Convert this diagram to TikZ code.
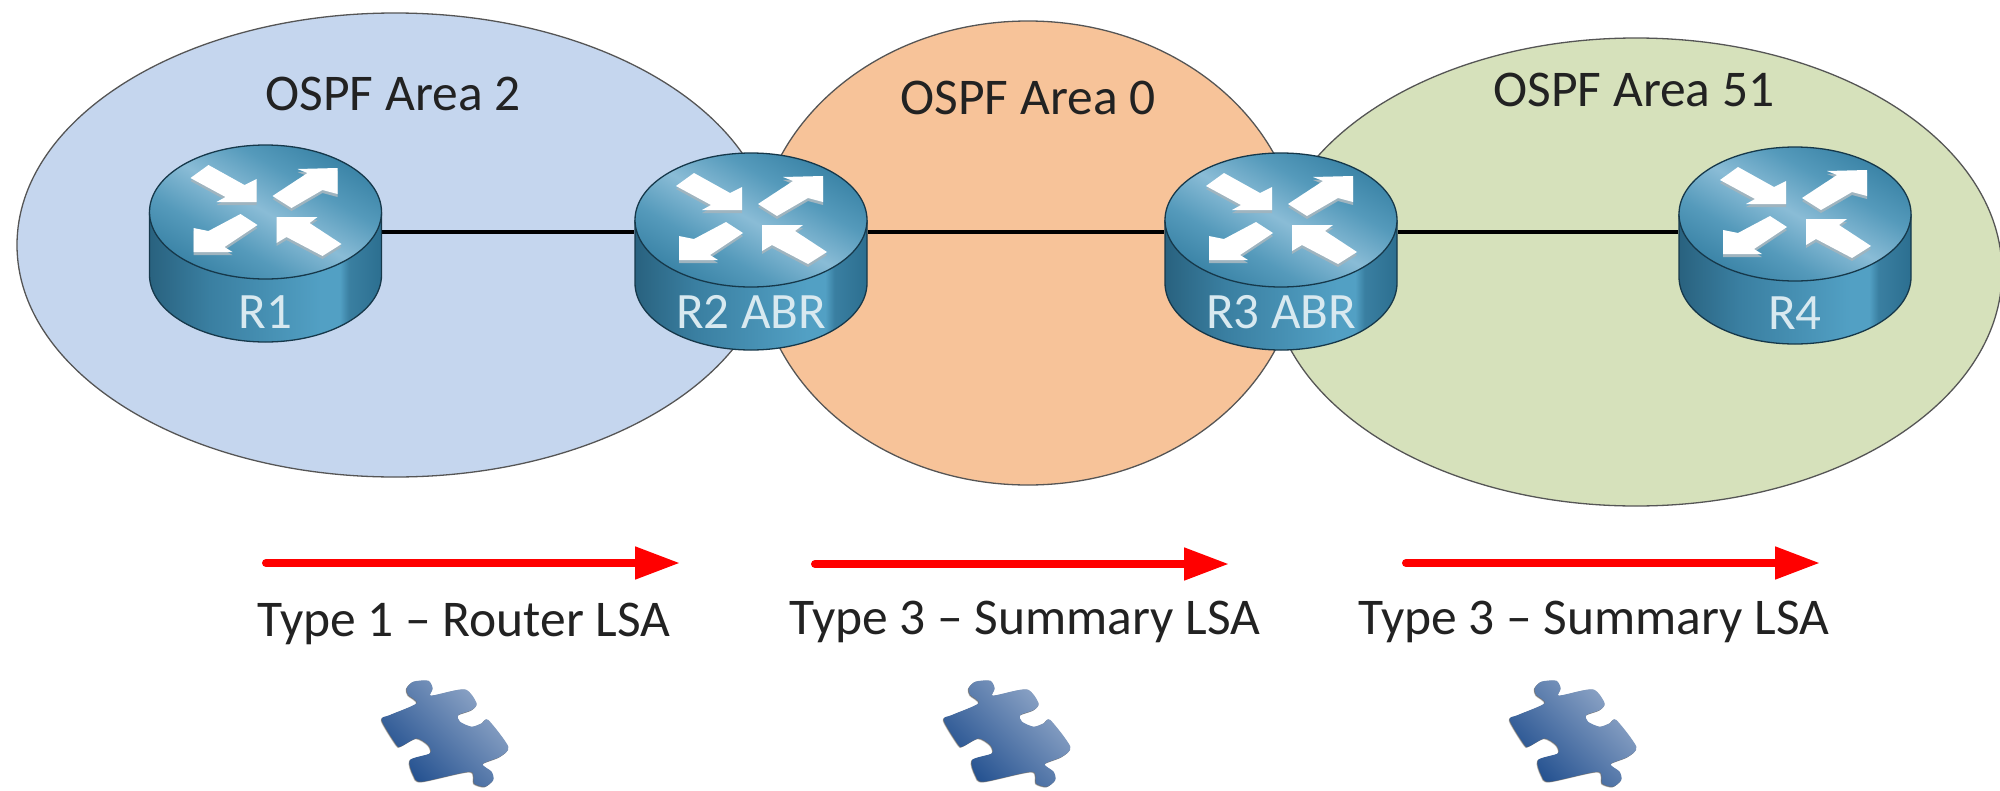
\documentclass[tikz,border=0pt]{standalone}
\usepackage{fontspec}
\setmainfont{Carlito}
\usetikzlibrary{arrows.meta}
\definecolor{areaA}{HTML}{C5D6EE}
\definecolor{areaB}{HTML}{F7C399}
\definecolor{areaC}{HTML}{D6E1BB}
\definecolor{rimline}{HTML}{555555}
\definecolor{routeredge}{HTML}{16384A}
\definecolor{bodyD}{HTML}{29627F}
\definecolor{bodyM}{HTML}{3A7FA1}
\definecolor{bodyL}{HTML}{52A0C4}
\definecolor{bodyR}{HTML}{2C6F90}
\definecolor{topD}{HTML}{3A83A6}
\definecolor{topM}{HTML}{559ABB}
\definecolor{topL}{HTML}{8ABCD6}
\definecolor{labeltext}{HTML}{D8E9F0}
\definecolor{inktext}{HTML}{222222}
\definecolor{puzL}{HTML}{93A9C9}
\definecolor{puzD}{HTML}{204E8E}
\definecolor{arrowshadow}{HTML}{9FB4BF}
\pgfdeclarehorizontalshading{rbody}{100bp}{color(0bp)=(bodyD);color(25bp)=(bodyD);color(38bp)=(bodyM);color(62bp)=(bodyL);color(66bp)=(bodyL);color(68bp)=(bodyM);color(75bp)=(bodyR);color(100bp)=(bodyR)}
\pgfdeclarehorizontalshading{rtop}{100bp}{color(0bp)=(topD);color(25bp)=(topD);color(37bp)=(topM);color(50bp)=(topL);color(63bp)=(topM);color(75bp)=(topD);color(100bp)=(topD)}
\pgfdeclarehorizontalshading{rpuzzle}{100bp}{color(0bp)=(puzD);color(25bp)=(puzD);color(75bp)=(puzL);color(100bp)=(puzL)}
\tikzset{
  area/.style={draw=rimline,line width=1.3pt},
  arealabel/.style={anchor=base,inner sep=0pt,text=inktext,font=\fontsize{51.5}{56}\selectfont},
  routerbox/.style={inner sep=0pt,minimum width=233pt,minimum height=60pt},
  routerlabel/.style={anchor=base,inner sep=0pt,text=labeltext,font=\fontsize{51}{56}\selectfont},
  link/.style={draw=black,line width=3.2pt},
  lsaarrow/.style={draw=red,line width=8pt,line cap=round,-{Triangle[length=45pt,width=31pt,fill=red]}},
  wing/.style={fill=white},
  wingshadow/.style={fill=arrowshadow}
}
\newcommand\routerart[5]{%
  \begin{scope}[shift={(#2,#3)}]
    \shade[shading=rbody,shading angle=0] (-116,0) -- (-116,63)
      .. controls (-116,100) and (-64,130) .. (0,130)
      .. controls (64,130) and (116,100) .. (116,63) -- (116,0) -- cycle;
    \draw[routeredge,line width=1.3pt] (-116,0) -- (-116,63)
      .. controls (-116,100) and (-64,130) .. (0,130)
      .. controls (64,130) and (116,100) .. (116,63) -- (116,0);
    \shade[shading=rtop,shading angle=60] (0,0) ellipse [x radius=116pt,y radius=67pt];
    \draw[routeredge,line width=1.3pt] (0,0) ellipse [x radius=116pt,y radius=67pt];
    \foreach \dy/\st in {3/wingshadow,0/wing}{
      \path[\st,yshift=-\dy pt] (-75,-34) -- (-57,-47) -- (-21,-27) -- (-9,-33) -- (-9,-10) -- (-49,-10) -- (-40,-15) -- cycle;
      \path[\st,yshift=-\dy pt] (72,-44) -- (32,-43) -- (42,-39) -- (7,-16) -- (26,-4) -- (57,-22) -- (72,-18) -- cycle;
      \path[\st,yshift=-\dy pt] (-72,16) -- (-72,40) -- (-33,40) -- (-41,35) -- (-8,13) -- (-25,2) -- (-57,19) -- cycle;
      \path[\st,yshift=-\dy pt] (11,5) -- (52,5) -- (44,11) -- (76,32) -- (57,44) -- (21,25) -- (11,31) -- cycle;
    }
    \node[routerlabel] (#1label) at (0,#5) {#4};
  \end{scope}}
\def\puzzlepath{plot[smooth cycle,tension=.45] coordinates{
  (140,85) (160,65) (205,62) (218,85) (210,105) (225,105) (315,88) (350,130) (335,150) (295,165)
  (300,185) (335,200) (365,190) (385,180) (445,260) (420,290) (368,312) (395,335) (400,360) (375,380)
  (342,370) (330,335) (185,365) (160,345) (150,300) (210,280) (205,255) (170,235) (125,258) (110,255)
  (65,180) (90,165) (170,130) (145,105)}}
\newcommand\puzzleart[1]{%
  \begin{scope}[shift={(#1,660)},scale=.3333]
    \fill[black,opacity=.18,xshift=-3pt,yshift=-3pt] \puzzlepath;
    \fill[black,opacity=.25,xshift=-2pt,yshift=-2pt] \puzzlepath;
    \fill[black,opacity=.3,xshift=-1pt,yshift=-1pt] \puzzlepath;
    \shade[shading=rpuzzle,shading angle=45] \puzzlepath;
  \end{scope}}
\begin{document}
\begin{tikzpicture}[x=1pt,y=-1pt]
  \useasboundingbox (0,0) rectangle (2000,790);
  \fill[white] (0,0) rectangle (2000,790);
  \begin{scope}
    \clip (0,0) rectangle (2000,790);
    \draw[area,fill=areaB] (1028,253) ellipse [x radius=272pt,y radius=232pt];
    \draw[area,fill=areaC] (1636,272) ellipse [x radius=366pt,y radius=234pt];
    \draw[area,fill=areaA] (395,245) ellipse [x radius=378pt,y radius=232pt];
  \end{scope}
  \node[arealabel] (area2) at (393,110) {OSPF Area 2};
  \node[arealabel] (area0) at (1028,114) {OSPF Area 0};
  \node[arealabel] (area51) at (1634,106) {OSPF Area 51};

  \node[routerbox] (r1) at (265.5,232) {};
  \node[routerbox] (r2) at (751,232) {};
  \node[routerbox] (r3) at (1281,232) {};
  \node[routerbox] (r4) at (1795,232) {};
  \draw[link] (r1) -- (r2);
  \draw[link] (r2) -- (r3);
  \draw[link] (r3) -- (r4);
  \routerart{r1}{265.5}{212}{R1}{116}
  \routerart{r2}{751}{220}{R2 ABR}{108}
  \routerart{r3}{1281}{220}{R3 ABR}{108}
  \routerart{r4}{1795}{214}{R4}{115}

  \coordinate (a1s) at (266,563); \coordinate (a1e) at (680,563);
  \coordinate (a2s) at (815,564); \coordinate (a2e) at (1229,564);
  \coordinate (a3s) at (1406,563); \coordinate (a3e) at (1820,563);
  \draw[lsaarrow] (a1s) -- (a1e);
  \draw[lsaarrow] (a2s) -- (a2e);
  \draw[lsaarrow] (a3s) -- (a3e);
  \node[arealabel] (t1) at (464,636) {Type 1 – Router LSA};
  \node[arealabel] (t2) at (1025,634) {Type 3 – Summary LSA};
  \node[arealabel] (t3) at (1594,634) {Type 3 – Summary LSA};

  \puzzleart{360}
  \puzzleart{922}
  \puzzleart{1488}
\end{tikzpicture}
\end{document}
